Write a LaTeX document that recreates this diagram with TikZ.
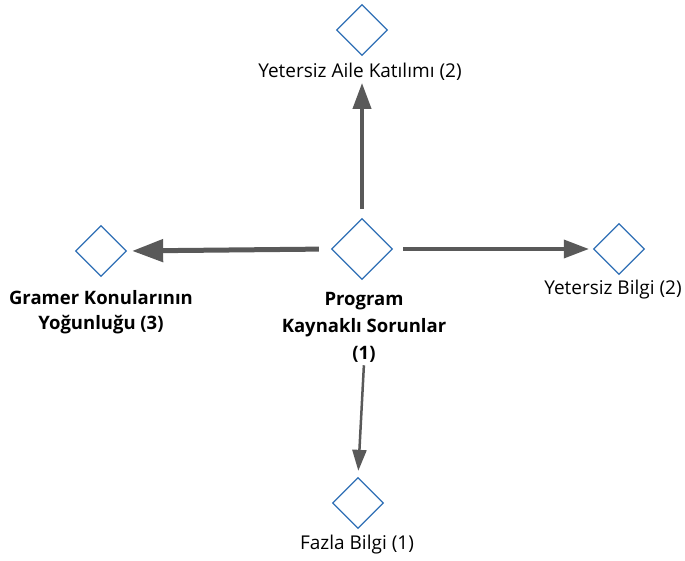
\documentclass[tikz,border=0pt]{standalone}
\usepackage{fontspec}
\setmainfont{Open Sans}
\usetikzlibrary{arrows,arrows.meta,shapes.geometric}
\definecolor{itemblue}{HTML}{2F6FB5}
\definecolor{arrowgray}{HTML}{595959}

\begin{document}
\begin{tikzpicture}[x=1pt,y=-1pt,
    item/.style={diamond,draw=itemblue,line width=1.3pt,minimum width=51pt,minimum height=51pt,inner sep=0pt},
    lbl/.style={font=\fontsize{19}{25}\selectfont,align=center,inner sep=1pt},
    boldlbl/.style={lbl,font=\fontsize{18.5}{27}\selectfont\bfseries},
    link/.style={draw=arrowgray,-{Triangle[length=25pt,width=18pt]}}]
      \useasboundingbox (0,0) rectangle (685,561);
      % diamonds
      \node[item,minimum width=61pt,minimum height=61pt] (prog) at (362,249) {};
      \node[item] (aile) at (362,30) {};
      \node[item] (gramer) at (101,251) {};
      \node[item] (bilgi) at (619,249) {};
      \node[item] (fazla) at (358,503) {};
      % labels
      \node[boldlbl] (proglbl) at (364,327) {Program\\Kaynaklı Sorunlar\\(1)};
      \node[lbl] (ailelbl) at (360,72) {Yetersiz Aile Katılımı (2)};
      \node[boldlbl,font=\fontsize{18.5}{25}\selectfont\bfseries] (gramerlbl) at (101,312) {Gramer Konularının\\Yoğunluğu (3)};
      \node[lbl] (bilgilbl) at (613,290) {Yetersiz Bilgi (2)};
      \node[lbl] (fazlalbl) at (357,545) {Fazla Bilgi (1)};
      % arrows
      \draw[link,line width=4pt,-{Triangle[length=26pt,width=18pt]},shorten <=9pt,shorten >=1pt] (prog.north) -- (prog.north |- ailelbl.south);
      \draw[link,line width=5pt,-{Triangle[length=31pt,width=22pt]},shorten <=12pt,shorten >=5pt] (prog.west) -- (gramer.east);
      \draw[link,line width=3.5pt,shorten <=10pt,shorten >=4pt] (prog.east) -- (bilgi.west);
      \draw[link,line width=2.5pt,-{Triangle[length=21pt,width=14pt]},shorten <=2pt,shorten >=6pt] (proglbl.south) -- (fazla.north);
\end{tikzpicture}
\end{document}
